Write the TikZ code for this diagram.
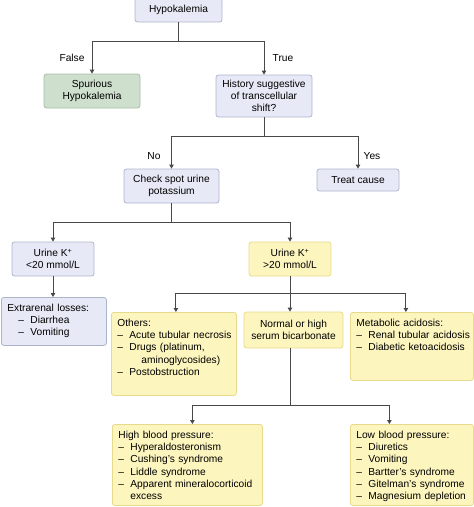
\documentclass[tikz,border=0pt]{standalone}
\usepackage{fontspec}
\setmainfont{Liberation Sans}
\usetikzlibrary{arrows.meta}
\definecolor{bfill}{RGB}{231,234,246}
\definecolor{bline}{RGB}{172,180,202}
\definecolor{gfill}{RGB}{206,223,206}
\definecolor{gline}{RGB}{166,190,166}
\definecolor{yfill}{RGB}{253,245,190}
\definecolor{yline}{RGB}{232,218,140}
\definecolor{cline}{RGB}{72,72,72}
\newcommand\dl[1]{\mbox{\makebox[12pt][l]{–}#1}}
\tikzset{
  basebox/.style={draw, rounded corners=2.5pt, line width=0.8pt, inner sep=2pt, align=center},
  bluebox/.style={basebox, draw=bline, fill=bfill},
  greenbox/.style={basebox, draw=gline, fill=gfill},
  yellowbox/.style={basebox, draw=yline, fill=yfill},
  listbox/.style={draw, rounded corners=2.5pt, line width=0.8pt, inner sep=6pt, align=left, anchor=north west, text height=8pt},
  bluelist/.style={listbox, draw=bline, fill=bfill},
  yellowlist/.style={listbox, draw=yline, fill=yfill},
  conn/.style={draw=cline, line width=0.9pt},
  arr/.style={conn, -{Triangle[length=4pt,width=4.5pt]}},
  lbl/.style={inner sep=1pt}
}
\begin{document}
\begin{tikzpicture}[x=1pt,y=-1pt,font=\fontsize{10.2}{12.2}\selectfont]
\useasboundingbox (0,0) rectangle (474,507);
% nodes
\node[bluebox, minimum width=87pt, minimum height=24pt] (hypo) at (178.5,10) {Hypokalemia};
\node[greenbox, minimum width=96pt, minimum height=34pt] (spur) at (92,91) {Spurious\\Hypokalemia};
\node[bluebox, minimum width=96pt, minimum height=42pt] (hist) at (264,96) {History suggestive\\of transcellular\\shift?};
\node[bluebox, minimum width=95pt, minimum height=34pt] (check) at (171.5,186) {Check spot urine\\potassium};
\node[bluebox, minimum width=82pt, minimum height=22pt] (treat) at (358,180) {Treat cause};
\node[bluebox, minimum width=82pt, minimum height=34pt] (ulow) at (53,259) {Urine K\textsuperscript{+}\\<20 mmol/L};
\node[yellowbox, minimum width=82pt, minimum height=34pt] (uhigh) at (290,259) {Urine K\textsuperscript{+}\\>20 mmol/L};
\node[bluelist, text width=93pt, text depth=28pt] (extra) at (1,297)
  {Extrarenal losses:\\\hspace*{11pt}\dl{Diarrhea}\\\hspace*{11pt}\dl{Vomiting}};
\node[yellowlist, text width=113pt, text depth=63pt] (others) at (111,312)
  {Others:\\\dl{Acute tubular necrosis}\\\dl{Drugs (platinum,}\\\hspace*{24pt}aminoglycosides)\\\dl{Postobstruction}};
\node[yellowbox, minimum width=99pt, minimum height=36pt] (normal) at (293.5,330) {Normal or high\\serum bicarbonate};
\node[yellowlist, text width=111pt, text depth=48pt] (metab) at (350,312)
  {Metabolic acidosis:\\\dl{Renal tubular acidosis}\\\dl{Diabetic ketoacidosis}};
\node[yellowlist, text width=138pt, text depth=61pt] (high) at (112,424)
  {High blood pressure:\\\dl{Hyperaldosteronism}\\\dl{Cushing's syndrome}\\\dl{Liddle syndrome}\\\dl{Apparent mineralocorticoid}\\\hspace*{12pt}excess};
\node[yellowlist, text width=111pt, text depth=61pt] (low) at (350,424)
  {Low blood pressure:\\\dl{Diuretics}\\\dl{Vomiting}\\\dl{Bartter's syndrome}\\\dl{Gitelman's syndrome}\\\dl{Magnesium depletion}};
% labels
\node[lbl] (lfalse) at (72,58) {False};
\node[lbl] (ltrue) at (283,58) {True};
\node[lbl] (lno) at (154,156) {No};
\node[lbl] (lyes) at (372,156) {Yes};
% junctions
\path (hypo.south) ++(0,19) coordinate (j1);
\path (hist.south) ++(0,19) coordinate (j2);
\path (check.south) ++(0,19) coordinate (j3);
\path (uhigh.south) ++(0,17) coordinate (j4);
\path (j4 |- normal.south) ++(0,57) coordinate (j5);
% connectors
\draw[conn] (hypo) -- (j1);
\draw[arr] (j1) -| (spur);
\draw[arr] (j1) -| (hist);
\draw[conn] (hist) -- (j2);
\draw[arr] (j2) -| (check);
\draw[arr] (j2) -| (treat);
\draw[conn] (check) -- (j3);
\draw[arr] (j3) -| (ulow);
\draw[arr] (j3) -| (uhigh);
\draw[arr] (ulow) -- (ulow.south |- extra.north);
\draw[conn] (uhigh) -- (j4);
\draw[arr] (j4) -| ([xshift=2pt]others.north);
\draw[arr] (j4) -- (j4 |- normal.north);
\draw[arr] (j4) -| ([xshift=-6pt]metab.north);
\draw[conn] (j4 |- normal.south) -- (j5);
\draw[arr] (j5) -| ([xshift=5pt]high.north);
\draw[arr] (j5) -| ([xshift=-22.5pt]low.north);
\end{tikzpicture}
\end{document}
